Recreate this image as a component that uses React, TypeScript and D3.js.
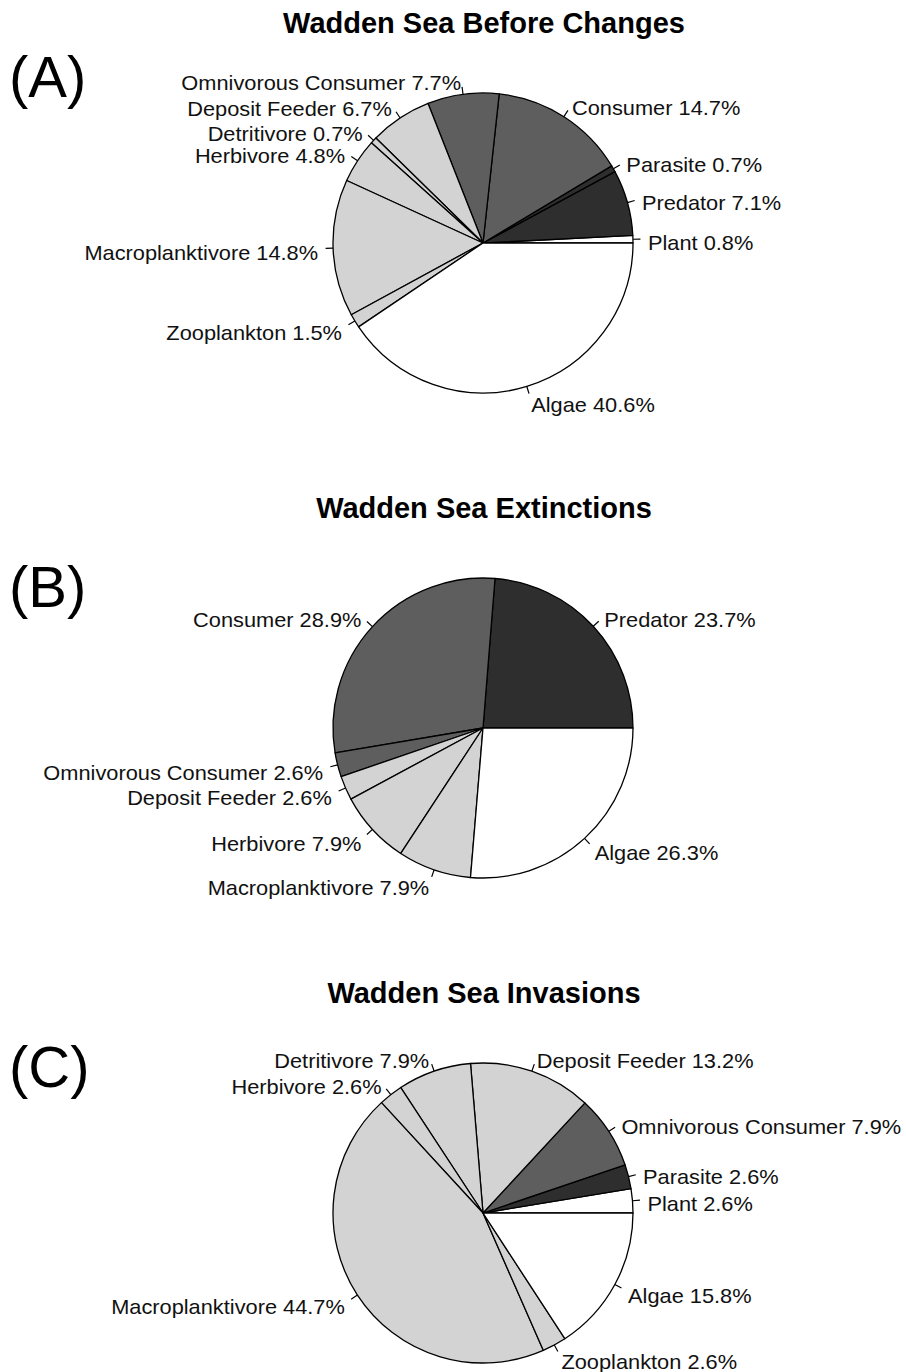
import React from "react";
import * as d3 from "d3";

const titles = ["Wadden Sea Before Changes", "Wadden Sea Extinctions", "Wadden Sea Invasions"];
const panelTags = ["(A)", "(B)", "(C)"];

const catsA = ["Plant", "Predator", "Parasite", "Consumer", "Omnivorous Consumer", "Deposit Feeder", "Detritivore", "Herbivore", "Macroplanktivore", "Zooplankton", "Algae"];
const valsA = [0.8, 7.1, 0.7, 14.7, 7.7, 6.7, 0.7, 4.8, 14.8, 1.5, 40.6];

const catsB = ["Predator", "Consumer", "Omnivorous Consumer", "Deposit Feeder", "Herbivore", "Macroplanktivore", "Algae"];
const valsB = [23.7, 28.9, 2.6, 2.6, 7.9, 7.9, 26.3];

const catsC = ["Plant", "Parasite", "Omnivorous Consumer", "Deposit Feeder", "Detritivore", "Herbivore", "Macroplanktivore", "Zooplankton", "Algae"];
const valsC = [2.6, 2.6, 7.9, 13.2, 7.9, 2.6, 44.7, 2.6, 15.8];

const colorOf: Record<string, string> = {
  Plant: "#ffffff",
  Algae: "#ffffff",
  Predator: "#2e2e2e",
  Parasite: "#2e2e2e",
  Consumer: "#5e5e5e",
  "Omnivorous Consumer": "#5e5e5e",
  "Deposit Feeder": "#d3d3d3",
  Detritivore: "#d3d3d3",
  Herbivore: "#d3d3d3",
  Macroplanktivore: "#d3d3d3",
  Zooplankton: "#d3d3d3",
};

const FONT = "'Liberation Sans', Arial, Helvetica, sans-serif";

const panels = [
  { cats: catsA, vals: valsA, cy: 243, tagY: 97 },
  { cats: catsB, vals: valsB, cy: 728, tagY: 607 },
  { cats: catsC, vals: valsC, cy: 1213, tagY: 1087 },
];

const CX = 483;
const R = 150;

function Pie({ cats, vals, cy, title, tag, tagY }: any) {
  const data = cats.map((c: string, i: number) => ({ c, v: vals[i] }));
  const pie = d3.pie<any>().value((d) => d.v).sort(null).startAngle(0).endAngle(2 * Math.PI);
  const arcs = pie(data);
  const arcGen = d3.arc<any>().innerRadius(0).outerRadius(R);
  return (
    <g>
      <text x={484} y={cy - 210} textAnchor="middle" fontFamily={FONT} fontWeight="bold" fontSize={29}>{title}</text>
      <text x={9} y={tagY} fontFamily={FONT} fontSize={58}>{tag}</text>
      <g transform={`translate(${CX},${cy})`}>
        {arcs.map((a: any, i: number) => {
          const path = arcGen({ startAngle: Math.PI / 2 - a.endAngle, endAngle: Math.PI / 2 - a.startAngle } as any);
          return <path key={i} d={path || ""} fill={colorOf[a.data.c]} stroke="#000" strokeWidth={1.3} strokeLinejoin="round" />;
        })}
        {arcs.map((a: any, i: number) => {
          const m = (a.startAngle + a.endAngle) / 2;
          const cx = Math.cos(m), sy = -Math.sin(m);
          const lx = 1.1 * R * cx, ly = 1.1 * R * sy;
          const label = `${a.data.c} ${a.data.v.toFixed(1)}%`;
          return (
            <g key={"l" + i}>
              <line x1={R * cx} y1={R * sy} x2={1.05 * R * cx} y2={1.05 * R * sy} stroke="#000" strokeWidth={1.2} />
              <text transform={`translate(${lx},${ly + 11}) scale(1.09,1)`} textAnchor={cx < 0 ? "end" : "start"} fontFamily={FONT} fontSize={20} fill="#111">{label}</text>
            </g>
          );
        })}
      </g>
    </g>
  );
}

export default function App() {
  return (
    <svg width={906} height={1372} style={{ position: "absolute", left: 0, top: 0, background: "#fff" }}>
      <rect x={0} y={0} width={906} height={1372} fill="#fff" />
      {panels.map((p, i) => (
        <Pie key={i} {...p} title={titles[i]} tag={panelTags[i]} />
      ))}
    </svg>
  );
}
